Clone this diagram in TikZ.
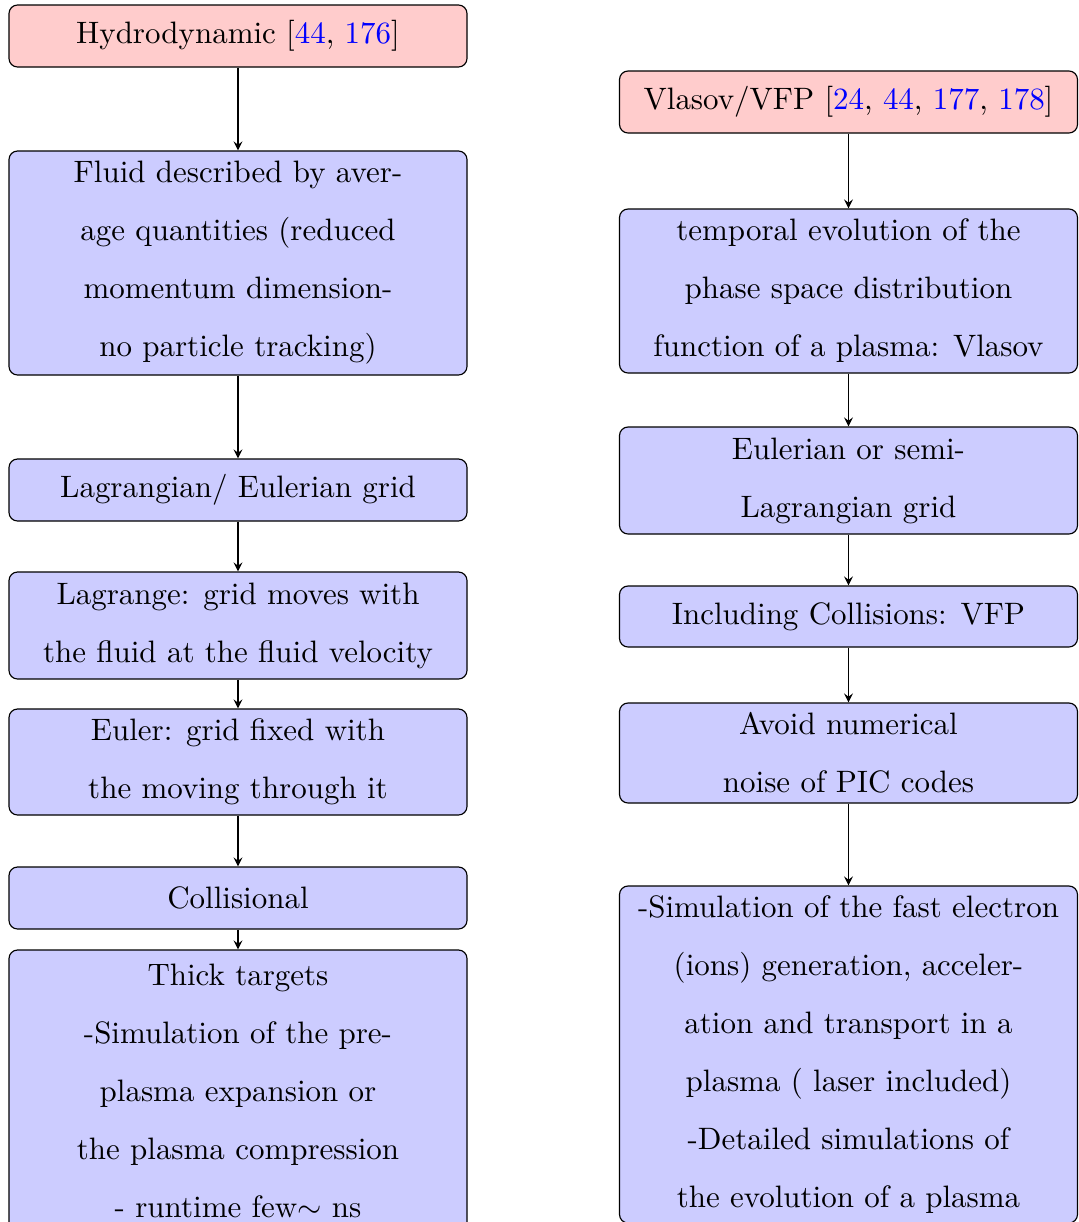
\documentclass[tikz,border=0pt]{standalone}
\usetikzlibrary{arrows}
\tikzset{
  box/.style={draw=black, rounded corners=3pt, align=center, inner sep=0pt,
    minimum width=458*0.35pt, font=\fontsize{10.84pt}{20.3pt}\selectfont},
  redbox/.style={box, fill=red!20},
  bluebox/.style={box, fill=blue!20},
  hgt/.style={minimum height=#1*0.35pt},
  flow/.style={draw=black, -stealth}
}
\newcommand{\cit}[1]{\textcolor{blue}{#1}}
\begin{document}
\begin{tikzpicture}[x=0.35pt, y=-0.35pt]
\useasboundingbox (0,0) rectangle (1078,1222);
\clip (0,0) rectangle (1078,1222);
% left column
\node[redbox, hgt=62] (h1) at (238,36) {Hydrodynamic [\cit{44}, \cit{176}]};
\node[bluebox, hgt=224] (h2) at (238,263) {Fluid described by aver-\\age quantities (reduced\\momentum dimension-\\no particle tracking)};
\node[bluebox, hgt=62] (h3) at (238,490) {Lagrangian/ Eulerian grid};
\node[bluebox, hgt=107] (h4) at (238,625.5) {Lagrange: grid moves with\\the fluid at the fluid velocity};
\node[bluebox, hgt=106] (h5) at (238,762) {Euler: grid fixed with\\the moving through it};
\node[bluebox, hgt=62] (h6) at (238,898) {Collisional};
\node[bluebox, hgt=281] (h7) at (238,1090.5) {Thick targets\\-Simulation of the pre-\\plasma expansion or\\the plasma compression\\- runtime few$\sim$ ns};
% right column
\node[redbox, hgt=62] (v1) at (848.5,102) {Vlasov/VFP [\cit{24}, \cit{44}, \cit{177}, \cit{178}]};
\node[bluebox, hgt=164] (v2) at (848.5,291) {temporal evolution of the\\phase space distribution\\function of a plasma: Vlasov};
\node[bluebox, hgt=107] (v3) at (848.5,480.5) {Eulerian or semi-\\Lagrangian grid};
\node[bluebox, hgt=61] (v4) at (848.5,616.5) {Including Collisions: VFP};
\node[bluebox, hgt=100] (v5) at (848.5,753) {Avoid numerical\\noise of PIC codes};
\node[bluebox, hgt=337] (v6) at (848.5,1054.5) {-Simulation of the fast electron\\(ions) generation, acceler-\\ation and transport in a\\plasma ( laser included)\\-Detailed simulations of\\the evolution of a plasma};
% connectors
\draw[flow] (h1) -- (h2);
\draw[flow] (h2) -- (h3);
\draw[flow] (h3) -- (h4);
\draw[flow] (h4) -- (h5);
\draw[flow] (h5) -- (h6);
\draw[flow] (h6) -- (h7);
\draw[flow] (v1) -- (v2);
\draw[flow] (v2) -- (v3);
\draw[flow] (v3) -- (v4);
\draw[flow] (v4) -- (v5);
\draw[flow] (v5) -- (v6);
\end{tikzpicture}
\end{document}
